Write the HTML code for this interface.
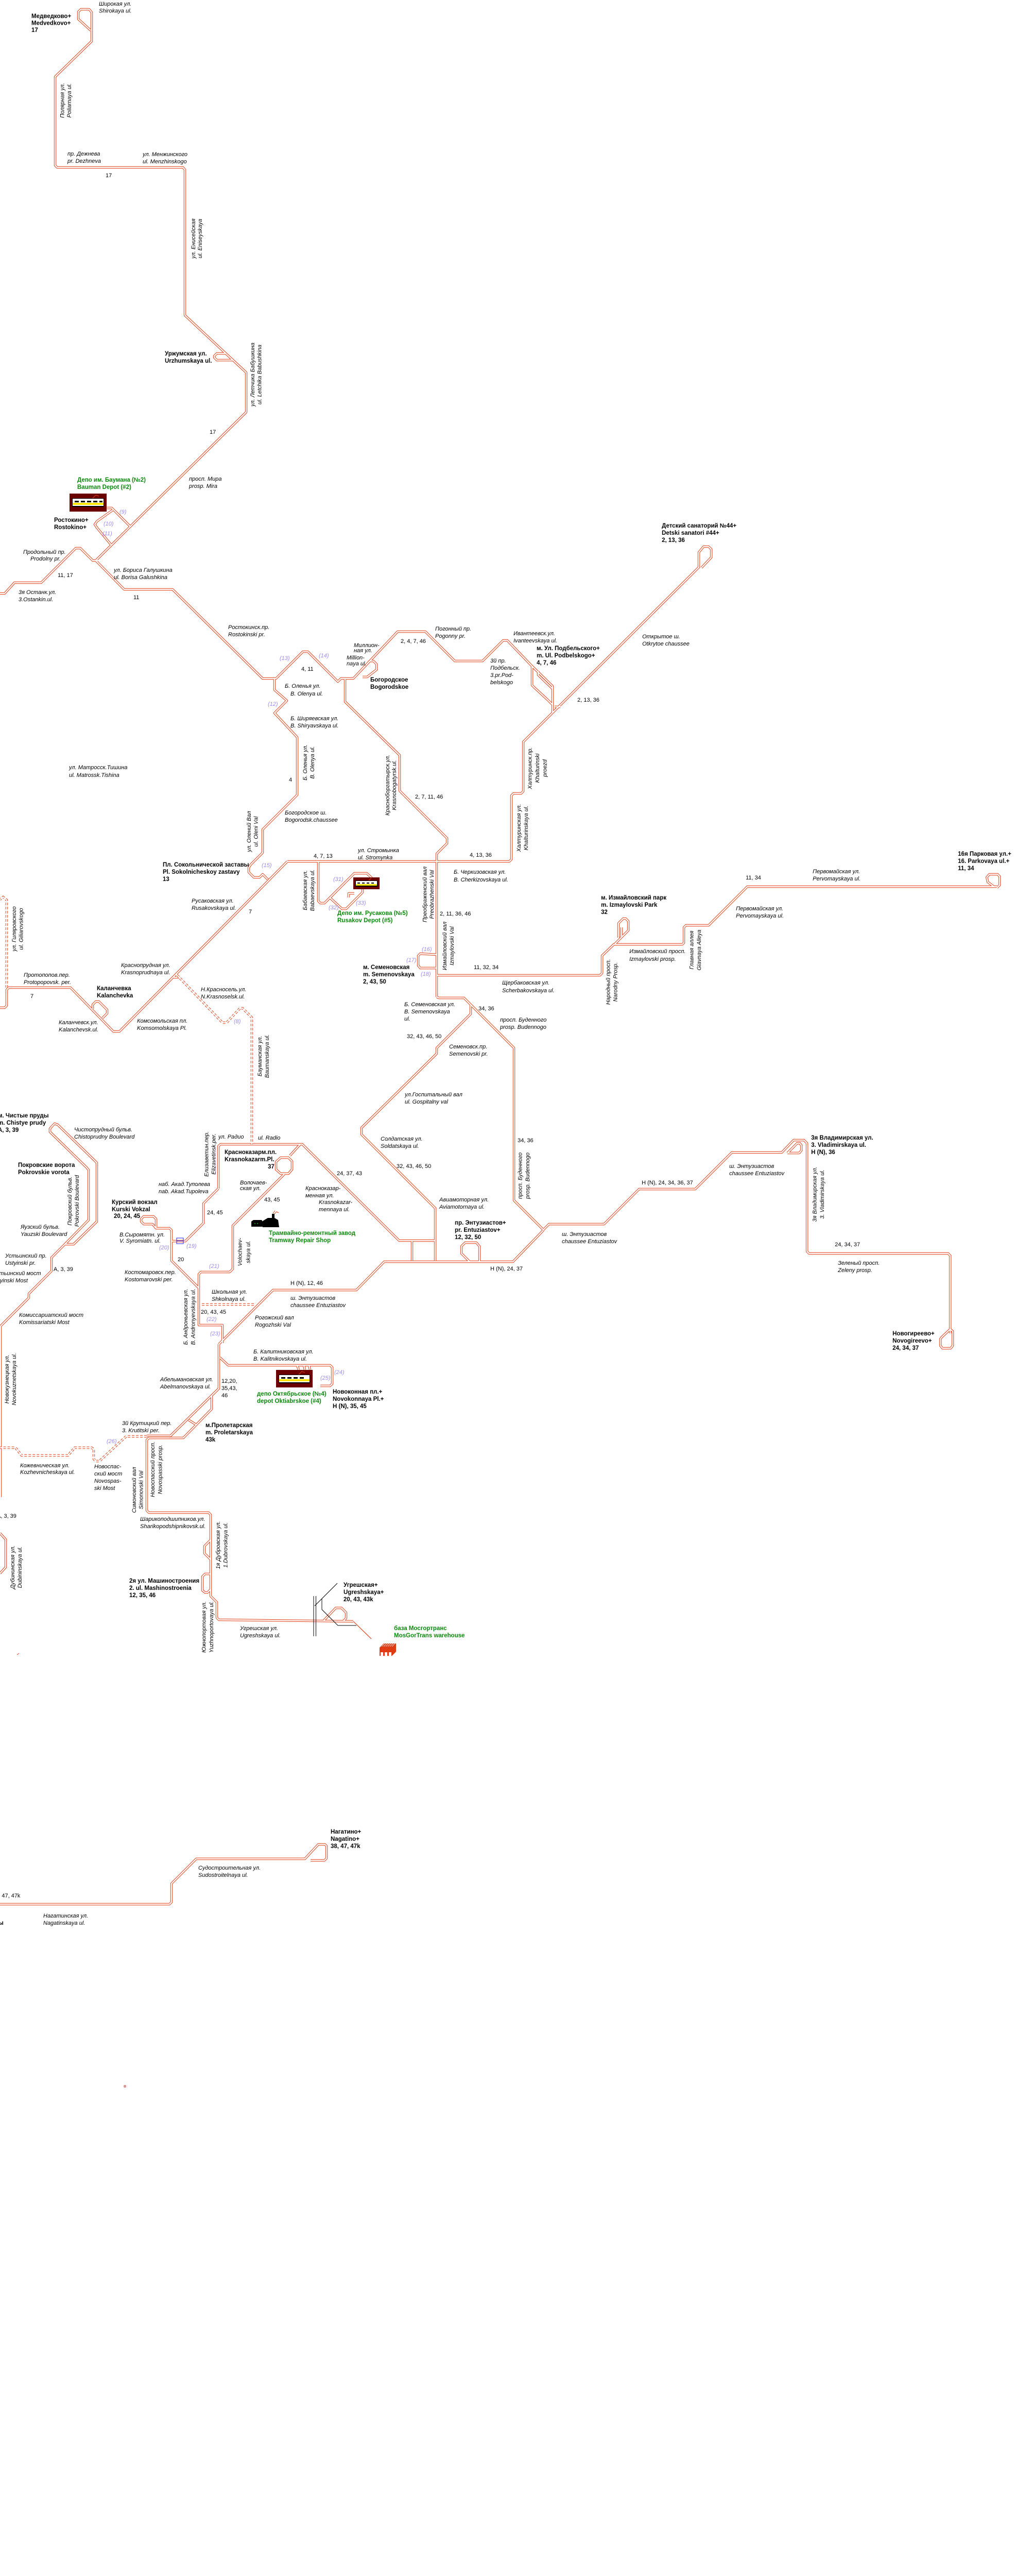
<!DOCTYPE html>
<html><head><meta charset="utf-8">
<style>
html,body{margin:0;padding:0;background:#fff;width:2000px;height:5219px;overflow:hidden;}
svg{display:block;position:absolute;left:0;top:0;}
.s{font-family:"Liberation Sans",Arial,sans-serif;font-style:italic;font-size:11px;fill:#000;}
.n{font-family:"Liberation Sans",Arial,sans-serif;font-size:11px;fill:#000;}
.b{font-family:"Liberation Sans",Arial,sans-serif;font-weight:bold;font-size:11.5px;fill:#000;}
.g{font-family:"Liberation Sans",Arial,sans-serif;font-weight:bold;font-size:11.5px;fill:#0a8a0a;}
.p{font-family:"Liberation Sans",Arial,sans-serif;font-style:italic;font-size:11px;fill:#9a8cf2;}
</style></head>
<body>
<svg xmlns="http://www.w3.org/2000/svg" xmlns:xlink="http://www.w3.org/1999/xlink" width="2000" height="5219" viewBox="0 0 2000 5219" overflow="hidden">
<rect width="2000" height="5219" fill="#fff"/>
<defs>
<g id="tr" fill="none" stroke-linejoin="round">
<path d="M178,62 L178,24 L173,18 L157,18 L152,23 L152,37 L176,59"/>
<path d="M178,62 L178,80 L107,149 L107,321 L111,325 L355,325 L359,329 L359,612 L478,723 L478,800 L187,1087"/>
<path d="M438,686 L421,686 L416,691 L416,694 L421,699 L452,699"/>
<path d="M207,986 L217,986 L253,1022"/>
<path d="M219,990 L188,1012 L184,1018 L188,1024 L217,1059"/>
<path d="M0,1152 L9,1152 L28,1131 L80,1131 L147,1064 L156,1064 L180,1088 L190,1088"/>
<path d="M185,1087 L241,1144 L335,1144 L510,1317 L536,1317 L588,1265 L598,1265 L656,1323 L662,1317 L686,1317 L772,1226 L826,1226 L883,1283 L937,1283 L977,1243 L985,1243 L1033,1293 L1073,1332 L1073,1383"/>
<path d="M702,1300 L718,1283 L725,1283 L731,1289 L731,1300 L713,1314 L704,1314"/>
<path d="M1033,1293 L1033,1330 L1037,1334 L1063,1358 L1073,1368"/>
<path d="M1045,1302 L1045,1310 L1073,1337"/>
<path d="M1077,1372 L1088,1372"/>
<path d="M670,1317 L670,1362 L776,1466 L776,1535 L868,1627 L868,1637 L848,1657 L848,1935"/>
<path d="M558,1672 L989,1672 L993,1668 L993,1544 L997,1540 L1012,1540 L1016,1536 L1016,1440 L1357,1101 L1357,1072 L1366,1061 L1376,1061 L1381,1066 L1381,1082 L1362,1102"/>
<path d="M533,1317 L533,1339 L557,1360 L533,1384 L577,1431 L577,1543 L510,1610 L510,1655 L487,1678 L483,1684 L483,1693 L493,1703 L504,1703 L510,1697 L520,1707"/>
<path d="M558,1672 L232,2002 L220,2002 L137,1917 L17,1917 L13,1921 L13,1952 L9,1956 L0,1956"/>
<path d="M180,1958 L180,1950 L186,1944 L192,1944 L208,1960 L208,1967 L199,1976"/>
<path d="M618,1672 L618,1749 L622,1753 L630,1753 L688,1695 L712,1695 L722,1704"/>
<path d="M640,1742 L664,1764 L672,1764 L704,1732 L704,1726"/>
<path d="M677,1742 L677,1734 L688,1734"/>
<path d="M848,1853 L816,1851 L812,1855 L812,1874 L816,1879 L848,1879"/>
<path d="M848,1935 L852,1937 L901,1937 L998,2034 L998,2330 L1055,2387 L1066,2376 L1173,2376 L1241,2308 L1350,2308 L1421,2237 L1518,2237 L1541,2213 L1561,2213 L1567,2219 L1567,2429 L1571,2433 L1841,2433 L1845,2437 L1845,2588"/>
<path d="M1845,2580 L1828,2596 L1826,2599 L1826,2612 L1830,2617 L1846,2617 L1850,2612 L1850,2584 L1845,2580"/>
<path d="M1529,2238 L1548,2219 L1553,2219 L1556,2223 L1556,2233 L1552,2238 L1529,2238"/>
<path d="M914,1950 L914,1968 L848,2034 L848,2045 L702,2189 L702,2202 L845,2345 L845,2447"/>
<path d="M848,1893 L1165,1893 L1169,1889 L1169,1855 L1192,1833 L1325,1833 L1328,1830 L1328,1800 L1332,1796 L1376,1796 L1451,1721 L1936,1721"/>
<path d="M1930,1721 L1918,1712 L1916,1703 L1921,1697 L1937,1697 L1941,1701 L1941,1718 L1936,1723"/>
<path d="M1194,1832 L1220,1806 L1220,1788 L1215,1783 L1210,1783 L1201,1792 L1201,1820"/>
<path d="M1207,1800 L1207,1818"/>
<path d="M424,2307 L424,2225 L428,2221 L587,2221 L775,2408 L845,2408"/>
<path d="M800,2409 L800,2447"/>
<path d="M424,2307 L395,2336 L395,2374 L360,2409 L333,2409"/>
<path d="M583,2221 L563,2243"/>
<path d="M545,2247 L560,2247 L567,2254 L567,2270 L560,2278 L545,2278 L536,2270 L536,2255 Z"/>
<path d="M552,2279 L452,2379 L452,2463 L446,2469 L390,2469 L386,2473 L386,2572 L432,2572 L432,2607"/>
<path d="M303,2384 L303,2366 L298,2361 L279,2361 L274,2366 L274,2371 L279,2376 L296,2376 L303,2384 L329,2384 L333,2388 L333,2447 L386,2500"/>
<path d="M425,2609 L530,2504 L692,2504 L746,2449 L996,2449 L1055,2388"/>
<path d="M912,2449 L896,2433 L896,2419 L903,2412 L925,2412 L931,2419 L931,2449"/>
<path d="M427,2635 L443,2650 L641,2650 L645,2654 L645,2686 L641,2690 L622,2690"/>
<path d="M577,2650 L580,2659 M590,2650 L592,2659 M600,2650 L602,2659"/>
<path d="M425,2609 L425,2695 L331,2787 L285,2787"/>
<path d="M411,2710 L411,2735 L356,2791 L289,2791 L285,2795 L285,2932 L289,2936 L405,2936 L409,2940 L409,3098 L421,3110 L421,3140 L425,3144 L686,3147"/>
<path d="M366,2756 L382,2766"/>
<path d="M409,2989 L397,3001 L397,3015 L409,3027"/>
<path d="M409,3055 L398,3055 L393,3060 L393,3087 L398,3091 L403,3091 L409,3085"/>
<path d="M629,3145 L652,3121 L663,3121 L672,3130 L672,3141 L667,3146"/>
<path d="M0,3696 L329,3696 L333,3692 L333,3656 L381,3608 L592,3608 L618,3580 L631,3580 L634,3583 L634,3607 L630,3611 L603,3611"/>
<path d="M0,2976 L11,2988 L11,3042 L0,3054"/>
<path d="M100,2187 L106,2181 L112,2183 L182,2251 L188,2257 L188,2371 L143,2415 L126,2415 L100,2441 L100,2467 L56,2511 L56,2519 L1,2574 L1,2906"/>
<path d="M100,2187 L97,2191 L97,2197 L168,2266 L172,2271 L172,2368 L126,2415"/>
<path d="M337,1897 L348,1897 M343,1890 L343,1897"/>
</g>
<g id="da" fill="none">
<path d="M344,1893 L432,1985 L440,1985 L466,1957 L471,1957 L489,1975 L489,2221"/>
<path d="M13,1917 L13,1747 L6,1741 L0,1746"/>
<path d="M392,2532 L493,2532"/>
<path d="M285,2788 L245,2788 L193,2836 L186,2836 L182,2832 L182,2813 L178,2810 L145,2810 L132,2825 L42,2825 L30,2810 L0,2810"/>
</g>
</defs>

<use xlink:href="#tr" href="#tr" stroke="#e03c14" stroke-width="4.4"/>
<use xlink:href="#tr" href="#tr" stroke="#ffffff" stroke-width="2.4"/>
<use xlink:href="#da" href="#da" stroke="#e03c14" stroke-width="4.4" stroke-dasharray="5 3"/>
<use xlink:href="#da" href="#da" stroke="#ffffff" stroke-width="2.4"/>

<path d="M609,3098 L609,3176 M613.5,3098 L613.5,3176 M611,3117 L655,3073 M625,3103 L625,3124 L656,3155 L692,3155" stroke="#000" stroke-width="1" fill="none"/>
<path d="M686,3147 L721,3181" stroke="#e03c14" stroke-width="1.2" fill="none"/>
<path d="M33,3212 L37,3209" stroke="#e03c14" stroke-width="1" fill="none"/>
<rect x="241" y="4048" width="3" height="3" fill="none" stroke="#c00000" stroke-width="0.8"/>

<rect x="343" y="2403" width="13" height="11" fill="none" stroke="#2020ff" stroke-width="1"/>
<line x1="343" y1="2408.5" x2="356" y2="2408.5" stroke="#2020ff" stroke-width="1"/>

<g>
<rect x="135" y="958" width="72" height="35" fill="#6b0000"/>
<rect x="140" y="967" width="62" height="17" fill="#000"/>
<rect x="141" y="968" width="60" height="3" fill="#fff"/>
<rect x="141" y="971" width="60" height="5" fill="#fff"/>
<rect x="145" y="972" width="8" height="3" fill="#000"/><rect x="157" y="972" width="8" height="3" fill="#000"/><rect x="169" y="972" width="8" height="3" fill="#000"/><rect x="181" y="972" width="8" height="3" fill="#000"/><rect x="193" y="972" width="6" height="3" fill="#000"/>
<rect x="141" y="976" width="60" height="4" fill="#ffe400"/>
<rect x="141" y="980" width="60" height="2" fill="#fff"/>
<path d="M180,967 L186,961 M186,961 L192,963" stroke="#e03c14" stroke-width="1" fill="none"/>
</g>
<g>
<rect x="686" y="1703" width="51" height="23" fill="#6b0000"/>
<rect x="690" y="1709" width="43" height="12" fill="#000"/>
<rect x="691" y="1710" width="41" height="3" fill="#fff"/>
<rect x="691" y="1713" width="41" height="3" fill="#fff"/>
<rect x="694" y="1713" width="5" height="2" fill="#000"/><rect x="703" y="1713" width="5" height="2" fill="#000"/><rect x="712" y="1713" width="5" height="2" fill="#000"/><rect x="721" y="1713" width="5" height="2" fill="#000"/>
<rect x="691" y="1716" width="41" height="3" fill="#ffe400"/>
<path d="M716,1709 L721,1704" stroke="#e03c14" stroke-width="1"/>
</g>
<g>
<rect x="536" y="2659" width="71" height="34" fill="#6b0000"/>
<rect x="541" y="2668" width="61" height="17" fill="#000"/>
<rect x="542" y="2669" width="59" height="3" fill="#fff"/>
<rect x="542" y="2672" width="59" height="5" fill="#fff"/>
<rect x="546" y="2673" width="8" height="3" fill="#000"/><rect x="558" y="2673" width="8" height="3" fill="#000"/><rect x="570" y="2673" width="8" height="3" fill="#000"/><rect x="582" y="2673" width="8" height="3" fill="#000"/>
<rect x="542" y="2677" width="59" height="4" fill="#ffe400"/>
<rect x="542" y="2681" width="59" height="2" fill="#fff"/>
<path d="M580,2668 L586,2662 L592,2664" stroke="#e03c14" stroke-width="1" fill="none"/>
</g>
<path d="M488,2371 L492,2368 L508,2368 L510,2371 L510,2381 L488,2381 Z" fill="#000"/>
<path d="M510,2370 L520,2364 L528,2364 L528,2356 L533,2356 L533,2364 L540,2368 L542,2382 L510,2382 Z" fill="#000"/>
<path d="M533,2356 L537,2352 L541,2354 M530,2355 L534,2350" stroke="#e03c14" stroke-width="1" fill="none"/>
<rect x="494" y="2374" width="2" height="2" fill="#0a8a0a"/><rect x="499" y="2374" width="2" height="2" fill="#0a8a0a"/>
<polygon points="737,3198 745,3190 769,3190 769,3206 761,3214 737,3214" fill="#e03c14"/>
<path d="M741,3196 L747,3190 M745,3196 L751,3190 M749,3196 L755,3190 M753,3196 L759,3190 M757,3196 L763,3190 M761,3196 L767,3190" stroke="#fff" stroke-width="0.8"/>
<rect x="739" y="3207" width="5" height="7" fill="#fff"/><rect x="747" y="3207" width="5" height="7" fill="#fff"/><rect x="755" y="3207" width="5" height="7" fill="#fff"/>

<text class="b" x="61" y="35">Медведково+<tspan x="61" dy="13.5">Medvedkovo+</tspan><tspan x="61" dy="13.5">17</tspan></text>
<text class="b" x="320" y="690">Уржумская ул.<tspan x="320" dy="14">Urzhumskaya ul.</tspan></text>
<text class="b" x="105" y="1013">Ростокино+<tspan x="105" dy="14">Rostokino+</tspan></text>
<text class="b" x="719" y="1323">Богородское<tspan x="719" dy="14">Bogorodskoe</tspan></text>
<text class="b" x="1042" y="1262">м. Ул. Подбельского+<tspan x="1042" dy="14">m. Ul. Podbelskogo+</tspan><tspan x="1042" dy="14">4, 7, 46</tspan></text>
<text class="b" x="1285" y="1024">Детский санаторий №44+<tspan x="1285" dy="14">Detski sanatori #44+</tspan><tspan x="1285" dy="14">2, 13, 36</tspan></text>
<text class="b" x="316" y="1682">Пл. Сокольнической заставы<tspan x="316" dy="14">Pl. Sokolnicheskoy zastavy</tspan><tspan x="316" dy="14">13</tspan></text>
<text class="b" x="705" y="1881">м. Семеновская<tspan x="705" dy="14">m. Semenovskaya</tspan><tspan x="705" dy="14">2, 43, 50</tspan></text>
<text class="b" x="1167" y="1746">м. Измайловский парк<tspan x="1167" dy="14">m. Izmaylovski Park</tspan><tspan x="1167" dy="14">32</tspan></text>
<text class="b" x="1860" y="1661">16я Парковая ул.+<tspan x="1860" dy="14">16. Parkovaya ul.+</tspan><tspan x="1860" dy="14">11, 34</tspan></text>
<text class="b" x="188" y="1922">Каланчевка<tspan x="188" dy="14">Kalanchevka</tspan></text>
<text class="b" x="1575" y="2212">3я Владимирская ул.<tspan x="1575" dy="14">3. Vladimirskaya ul.</tspan><tspan x="1575" dy="14">H (N), 36</tspan></text>
<text class="b" x="1733" y="2592">Новогиреево+<tspan x="1733" dy="14">Novogireevo+</tspan><tspan x="1733" dy="14">24, 34, 37</tspan></text>
<text class="b" x="-4" y="2169">м. Чистые пруды<tspan x="-4" dy="14">m. Chistye prudy</tspan><tspan x="-4" dy="14">A, 3, 39</tspan></text>
<text class="b" x="35" y="2265">Покровские ворота<tspan x="35" dy="14">Pokrovskie vorota</tspan></text>
<text class="b" x="436" y="2240">Красноказарм.пл.<tspan x="436" dy="14">Krasnokazarm.Pl.</tspan><tspan x="520" dy="14">37</tspan></text>
<text class="b" x="217" y="2337">Курский вокзал<tspan x="217" dy="14">Kurski Vokzal</tspan><tspan x="221" dy="13">20, 24, 45</tspan></text>
<text class="b" x="883" y="2377">пр. Энтузиастов+<tspan x="883" dy="14">pr. Entuziastov+</tspan><tspan x="883" dy="14">12, 32, 50</tspan></text>
<text class="b" x="646" y="2705">Новоконная пл.+<tspan x="646" dy="14">Novokonnaya Pl.+</tspan><tspan x="646" dy="14">H (N), 35, 45</tspan></text>
<text class="b" x="399" y="2770">м.Пролетарская<tspan x="399" dy="14">m. Proletarskaya</tspan><tspan x="399" dy="14">43k</tspan></text>
<text class="b" x="251" y="3072">2я ул. Машиностроения<tspan x="251" dy="14">2. ul. Mashinostroenia</tspan><tspan x="251" dy="14">12, 35, 46</tspan></text>
<text class="b" x="667" y="3080">Угрешская+<tspan x="667" dy="14">Ugreshskaya+</tspan><tspan x="667" dy="14">20, 43, 43k</tspan></text>
<text class="b" x="642" y="3559">Нагатино+<tspan x="642" dy="14">Nagatino+</tspan><tspan x="642" dy="14">38, 47, 47k</tspan></text>
<text class="b" x="-3" y="3736">ы</text>

<text class="g" x="150" y="935">Депо им. Баумана (№2)<tspan x="150" dy="14">Bauman Depot (#2)</tspan></text>
<text class="g" x="655" y="1776">Депо им. Русакова (№5)<tspan x="655" dy="14">Rusakov Depot (#5)</tspan></text>
<text class="g" x="522" y="2397">Трамвайно-ремонтный завод<tspan x="522" dy="14">Tramway Repair Shop</tspan></text>
<text class="g" x="499" y="2709">депо Октябрьское (№4)<tspan x="499" dy="14">depot Oktiabrskoe (#4)</tspan></text>
<text class="g" x="765" y="3164">база Мосгортранс<tspan x="765" dy="14">MosGorTrans warehouse</tspan></text>

<text class="p" x="232" y="997">(9)</text>
<text class="p" x="201" y="1020">(10)</text>
<text class="p" x="199" y="1039">(11)</text>
<text class="p" x="543" y="1281">(13)</text>
<text class="p" x="619" y="1276">(14)</text>
<text class="p" x="520" y="1370">(12)</text>
<text class="p" x="508" y="1683">(15)</text>
<text class="p" x="647" y="1710">(31)</text>
<text class="p" x="638" y="1765">(32)</text>
<text class="p" x="691" y="1756">(33)</text>
<text class="p" x="819" y="1846">(16)</text>
<text class="p" x="789" y="1867">(17)</text>
<text class="p" x="817" y="1894">(18)</text>
<text class="p" x="454" y="1986">(8)</text>
<text class="p" x="309" y="2425">(20)</text>
<text class="p" x="362" y="2422">(19)</text>
<text class="p" x="406" y="2461">(21)</text>
<text class="p" x="401" y="2564">(22)</text>
<text class="p" x="408" y="2592">(23)</text>
<text class="p" x="649" y="2667">(24)</text>
<text class="p" x="622" y="2678">(25)</text>
<text class="p" x="207" y="2801">(26)</text>

<text class="n" x="205" y="344">17</text>
<text class="n" x="407" y="842">17</text>
<text class="n" x="112" y="1120">11, 17</text>
<text class="n" x="259" y="1163">11</text>
<text class="n" x="778" y="1248">2, 4, 7, 46</text>
<text class="n" x="585" y="1302">4, 11</text>
<text class="n" x="561" y="1517">4</text>
<text class="n" x="806" y="1550">2, 7, 11, 46</text>
<text class="n" x="609" y="1665">4, 7, 13</text>
<text class="n" x="912" y="1663">4, 13, 36</text>
<text class="n" x="1121" y="1362">2, 13, 36</text>
<text class="n" x="483" y="1773">7</text>
<text class="n" x="59" y="1937">7</text>
<text class="n" x="854" y="1777">2, 11, 36, 46</text>
<text class="n" x="920" y="1881">11, 32, 34</text>
<text class="n" x="1448" y="1707">11, 34</text>
<text class="n" x="929" y="1961">34, 36</text>
<text class="n" x="790" y="2015">32, 43, 46, 50</text>
<text class="n" x="770" y="2267">32, 43, 46, 50</text>
<text class="n" x="654" y="2281">24, 37, 43</text>
<text class="n" x="513" y="2332">43, 45</text>
<text class="n" x="402" y="2357">24, 45</text>
<text class="n" x="345" y="2448">20</text>
<text class="n" x="104" y="2467">A, 3, 39</text>
<text class="n" x="564" y="2494">H (N), 12, 46</text>
<text class="n" x="390" y="2550">20, 43, 45</text>
<text class="n" x="430" y="2684">12,20,<tspan x="430" dy="14">35,43,</tspan><tspan x="430" dy="14">46</tspan></text>
<text class="n" x="952" y="2466">H (N), 24, 37</text>
<text class="n" x="1005" y="2217">34, 36</text>
<text class="n" x="1246" y="2299">H (N), 24, 34, 36, 37</text>
<text class="n" x="1621" y="2419">24, 34, 37</text>
<text class="n" x="-6" y="2946">A, 3, 39</text>
<text class="n" x="-15" y="3683">38, 47, 47k</text>

<text class="s" x="192" y="11">Широкая ул.<tspan x="192" dy="13.5">Shirokaya ul.</tspan></text>
<text class="s" x="131" y="302">пр. Дежнева<tspan x="131" dy="14">pr. Dezhneva</tspan></text>
<text class="s" x="277" y="303">ул. Менжинского<tspan x="277" dy="14">ul. Menzhinskogo</tspan></text>
<text class="s" x="367" y="933">просп. Мира<tspan x="367" dy="14">prosp. Mira</tspan></text>
<text class="s" x="45" y="1075">Продольный пр.</text>
<text class="s" x="59" y="1088">Prodolny pr.</text>
<text class="s" x="36" y="1153">3я Останк.ул.<tspan x="36" dy="14">3.Ostankin.ul.</tspan></text>
<text class="s" x="221" y="1110">ул. Бориса Галушкина<tspan x="221" dy="14">ul. Borisa Galushkina</tspan></text>
<text class="s" x="443" y="1221">Ростокинск.пр.<tspan x="443" dy="14">Rostokinski pr.</tspan></text>
<text class="s" x="687" y="1256">Миллион-<tspan x="687" dy="10">ная ул.</tspan></text>
<text class="s" x="673" y="1280">Million-<tspan x="673" dy="11.5">naya ul.</tspan></text>
<text class="s" x="845" y="1224">Погонный пр.<tspan x="845" dy="14">Pogonny pr.</tspan></text>
<text class="s" x="997" y="1233">Ивантеевск.ул.<tspan x="997" dy="14">Ivanteevskaya ul.</tspan></text>
<text class="s" x="952" y="1286">3й пр.<tspan x="952" dy="14">Подбельск.</tspan><tspan x="952" dy="14">3.pr.Pod-</tspan><tspan x="952" dy="14">belskogo</tspan></text>
<text class="s" x="1247" y="1239">Открытое ш.<tspan x="1247" dy="14">Otkrytoe chaussee</tspan></text>
<text class="s" x="553" y="1335">Б. Оленья ул.<tspan x="564" dy="15">B. Olenya ul.</tspan></text>
<text class="s" x="564" y="1398">Б. Ширяевская ул.<tspan x="564" dy="14">B. Shiryavskaya ul.</tspan></text>
<text class="s" x="134" y="1493">ул. Матросск.Тишина<tspan x="134" dy="15">ul. Matrossk.Tishina</tspan></text>
<text class="s" x="553" y="1581">Богородское ш.<tspan x="553" dy="14">Bogorodsk.chaussee</tspan></text>
<text class="s" x="695" y="1654">ул. Стромынка<tspan x="695" dy="14">ul. Stromynka</tspan></text>
<text class="s" x="881" y="1696">Б. Черкизовская ул.<tspan x="881" dy="15">B. Cherkizovskaya ul.</tspan></text>
<text class="s" x="372" y="1752">Русаковская ул.<tspan x="372" dy="14">Rusakovskaya ul.</tspan></text>
<text class="s" x="235" y="1877">Краснопрудная ул.<tspan x="235" dy="14">Krasnoprudnaya ul.</tspan></text>
<text class="s" x="46" y="1896">Протопопов.пер.<tspan x="46" dy="14">Protopopovsk. per.</tspan></text>
<text class="s" x="390" y="1924">Н.Красносель.ул.<tspan x="390" dy="14">N.Krasnoselsk.ul.</tspan></text>
<text class="s" x="114" y="1988">Каланчевск.ул.<tspan x="114" dy="14">Kalanchevsk.ul.</tspan></text>
<text class="s" x="266" y="1985">Комсомольская пл.<tspan x="266" dy="14">Komsomolskaya Pl.</tspan></text>
<text class="s" x="975" y="1911">Щербаковская ул.<tspan x="975" dy="15">Scherbakovskaya ul.</tspan></text>
<text class="s" x="1222" y="1850">Измайловский просп.<tspan x="1222" dy="15">Izmaylovski prosp.</tspan></text>
<text class="s" x="1429" y="1767">Первомайская ул.<tspan x="1429" dy="14">Pervomayskaya ul.</tspan></text>
<text class="s" x="1578" y="1695">Первомайская ул.<tspan x="1578" dy="14">Pervomayskaya ul.</tspan></text>
<text class="s" x="785" y="1953">Б. Семеновская ул.<tspan x="785" dy="14">B. Semenovskaya</tspan><tspan x="785" dy="14">ul.</tspan></text>
<text class="s" x="971" y="1983">просп. Буденного<tspan x="971" dy="14">prosp. Budennogo</tspan></text>
<text class="s" x="872" y="2035">Семеновск.пр.<tspan x="872" dy="14">Semenovski pr.</tspan></text>
<text class="s" x="786" y="2128">ул.Госпитальный вал<tspan x="786" dy="14">ul. Gospitalny val</tspan></text>
<text class="s" x="739" y="2214">Солдатская ул.<tspan x="739" dy="14">Soldatskaya ul.</tspan></text>
<text class="s" x="853" y="2332">Авиамоторная ул.<tspan x="853" dy="14">Aviamotornaya ul.</tspan></text>
<text class="s" x="424" y="2210">ул. Радио</text>
<text class="s" x="501" y="2212">ul. Radio</text>
<text class="s" x="144" y="2196">Чистопрудный бульв.<tspan x="144" dy="14">Chistoprudny Boulevard</tspan></text>
<text class="s" x="40" y="2385">Яузский бульв.<tspan x="40" dy="14">Yauzski Boulevard</tspan></text>
<text class="s" x="10" y="2441">Устьинский пр.<tspan x="10" dy="14">Ustyinski pr.</tspan></text>
<text class="s" x="-14" y="2475">Устьинский мост<tspan x="-17" dy="14">Ustyinski Most</tspan></text>
<text class="s" x="37" y="2556">Комиссариатский мост<tspan x="37" dy="14">Komissariatski Most</tspan></text>
<text class="s" x="308" y="2302">наб. Акад.Туполева<tspan x="308" dy="14">nab. Akad.Tupoleva</tspan></text>
<text class="s" x="232" y="2400">В.Сыромятн. ул.<tspan x="232" dy="12">V. Syromiatn. ul.</tspan></text>
<text class="s" x="466" y="2299">Волочаев-<tspan x="466" dy="11">ская ул.</tspan></text>
<text class="s" x="593" y="2310">Красноказар-<tspan x="593" dy="14">менная ул.</tspan></text>
<text class="s" x="619" y="2337">Krasnokazar-<tspan x="619" dy="14">mennaya ul.</tspan></text>
<text class="s" x="242" y="2473">Костомаровск.пер.<tspan x="242" dy="14">Kostomarovski per.</tspan></text>
<text class="s" x="411" y="2511">Школьная ул.<tspan x="411" dy="14">Shkolnaya ul.</tspan></text>
<text class="s" x="564" y="2523">ш. Энтузиастов<tspan x="564" dy="14">chaussee Entuziastov</tspan></text>
<text class="s" x="495" y="2561">Рогожский вал<tspan x="495" dy="14">Rogozhski Val</tspan></text>
<text class="s" x="492" y="2627">Б. Калитниковская ул.<tspan x="492" dy="14">B. Kalitnikovskaya ul.</tspan></text>
<text class="s" x="311" y="2681">Абельмановская ул.<tspan x="311" dy="14">Abelmanovskaya ul.</tspan></text>
<text class="s" x="237" y="2766">3й Крутицкий пер.<tspan x="237" dy="14">3. Krutitski per.</tspan></text>
<text class="s" x="39" y="2848">Кожевническая ул.<tspan x="39" dy="13">Kozhevnicheskaya ul.</tspan></text>
<text class="s" x="183" y="2850">Новоспас-<tspan x="183" dy="14">ский мост</tspan><tspan x="183" dy="14">Novospas-</tspan><tspan x="183" dy="14">ski Most</tspan></text>
<text class="s" x="272" y="2952">Шарикоподшипников.ул.<tspan x="272" dy="14">Sharikopodshipnikovsk.ul.</tspan></text>
<text class="s" x="466" y="3164">Угрешская ул.<tspan x="466" dy="14">Ugreshskaya ul.</tspan></text>
<text class="s" x="1091" y="2399">ш. Энтузиастов<tspan x="1091" dy="14">chaussee Entuziastov</tspan></text>
<text class="s" x="1416" y="2267">ш. Энтузиастов<tspan x="1416" dy="14">chaussee Entuziastov</tspan></text>
<text class="s" x="1627" y="2455">Зеленый просп.<tspan x="1627" dy="14">Zeleny prosp.</tspan></text>
<text class="s" x="385" y="3629">Судостроительная ул.<tspan x="385" dy="14">Sudostroitelnaya ul.</tspan></text>
<text class="s" x="84" y="3722">Нагатинская ул.<tspan x="84" dy="14">Nagatinskaya ul.</tspan></text>

<text class="s" text-anchor="middle" transform="translate(124.5,195) rotate(-90)">Полярная ул.<tspan x="0" dy="13.5">Poliarnaya ul.</tspan></text>
<text class="s" text-anchor="middle" transform="translate(379,463) rotate(-90)">ул. Енисейская<tspan x="0" dy="13">ul. Eniseyskaya</tspan></text>
<text class="s" text-anchor="middle" transform="translate(494,727) rotate(-90)">ул. Летчика Бабушкина<tspan x="0" dy="13.5">ul. Letchika Babushkina</tspan></text>
<text class="s" text-anchor="middle" transform="translate(487,1614) rotate(-90)">ул. Олений Вал<tspan x="0" dy="13.5">ul. Oleni Val</tspan></text>
<text class="s" text-anchor="middle" transform="translate(596,1480) rotate(-90)">Б. Оленья ул.<tspan x="0" dy="14">B. Olenya ul.</tspan></text>
<text class="s" text-anchor="middle" transform="translate(756,1524) rotate(-90)">Красноборгатырск.ул.<tspan x="0" dy="13">Krasnobogatyrsk.ul.</tspan></text>
<text class="s" text-anchor="middle" transform="translate(1032.5,1491) rotate(-90)">Халтуринск.пр.<tspan x="0" dy="14.5">Khalturinski</tspan><tspan x="0" dy="14.5">proezd</tspan></text>
<text class="s" text-anchor="middle" transform="translate(1011,1607) rotate(-90)">Халтуринская ул.<tspan x="0" dy="14">Khalturinskaya ul.</tspan></text>
<text class="s" text-anchor="middle" transform="translate(596,1728) rotate(-90)">Бабаевская ул.<tspan x="0" dy="14">Babaevskaya ul.</tspan></text>
<text class="s" text-anchor="middle" transform="translate(828.5,1736) rotate(-90)">Преображенский вал<tspan x="0" dy="13.5">Preobrazhenski Val</tspan></text>
<text class="s" text-anchor="middle" transform="translate(867,1836) rotate(-90)">Измайловский вал<tspan x="0" dy="14">Izmaylovski Val</tspan></text>
<text class="s" text-anchor="middle" transform="translate(1346.5,1844) rotate(-90)">Главная аллея<tspan x="0" dy="14.5">Glavnaya Alleya</tspan></text>
<text class="s" text-anchor="middle" transform="translate(1184.5,1906) rotate(-90)">Народный просп.<tspan x="0" dy="14">Narodny Prosp.</tspan></text>
<text class="s" text-anchor="middle" transform="translate(1013.5,2282) rotate(-90)">просп. Буденного<tspan x="0" dy="14.5">prosp. Budennogo</tspan></text>
<text class="s" text-anchor="middle" transform="translate(1585.5,2318) rotate(-90)">3я Владимирская ул.<tspan x="0" dy="14.5">3. Vladimirskaya ul.</tspan></text>
<text class="s" text-anchor="middle" transform="translate(31,1803) rotate(-90)">ул. Гиляровского<tspan x="0" dy="13.5">ul. Giliarovskogo</tspan></text>
<text class="s" text-anchor="middle" transform="translate(508,2050) rotate(-90)">Бауманская ул.<tspan x="0" dy="14">Baumanskaya ul.</tspan></text>
<text class="s" text-anchor="middle" transform="translate(404.5,2240) rotate(-90)">Елизаветин.пер.<tspan x="0" dy="14">Elizavetinsk.per.</tspan></text>
<text class="s" text-anchor="middle" transform="translate(469.5,2430) rotate(-90)">Volochaev-<tspan x="0" dy="16">skaya ul.</tspan></text>
<text class="s" text-anchor="middle" transform="translate(139,2331) rotate(-90)">Покровский бульв.<tspan x="0" dy="14">Pokrovski Boulevard</tspan></text>
<text class="s" text-anchor="middle" transform="translate(364,2556) rotate(-90)">Б. Андроньевская ул.<tspan x="0" dy="14.5">B. Andronyevskaya ul.</tspan></text>
<text class="s" text-anchor="middle" transform="translate(17,2677) rotate(-90)">Новокузнецкая ул.<tspan x="0" dy="14">Novokuznetskaya ul.</tspan></text>
<text class="s" text-anchor="middle" transform="translate(264,2892) rotate(-90)">Симоновский вал<tspan x="0" dy="13.5">Simonovski Val</tspan></text>
<text class="s" text-anchor="middle" transform="translate(300,2852) rotate(-90)">Новоспасский просп.<tspan x="0" dy="14.5">Novospasski prosp.</tspan></text>
<text class="s" text-anchor="middle" transform="translate(427,2999) rotate(-90)">1я Дубровская ул.<tspan x="0" dy="14.5">1.Dubrovskaya ul.</tspan></text>
<text class="s" text-anchor="middle" transform="translate(399.5,3158) rotate(-90)">Южнопортовая ул.<tspan x="0" dy="14.5">Yuzhnoportovaya ul.</tspan></text>
<text class="s" text-anchor="middle" transform="translate(28,3042) rotate(-90)">Дубининская ул.<tspan x="0" dy="14">Dubininskaya ul.</tspan></text>
</svg>
</body></html>
